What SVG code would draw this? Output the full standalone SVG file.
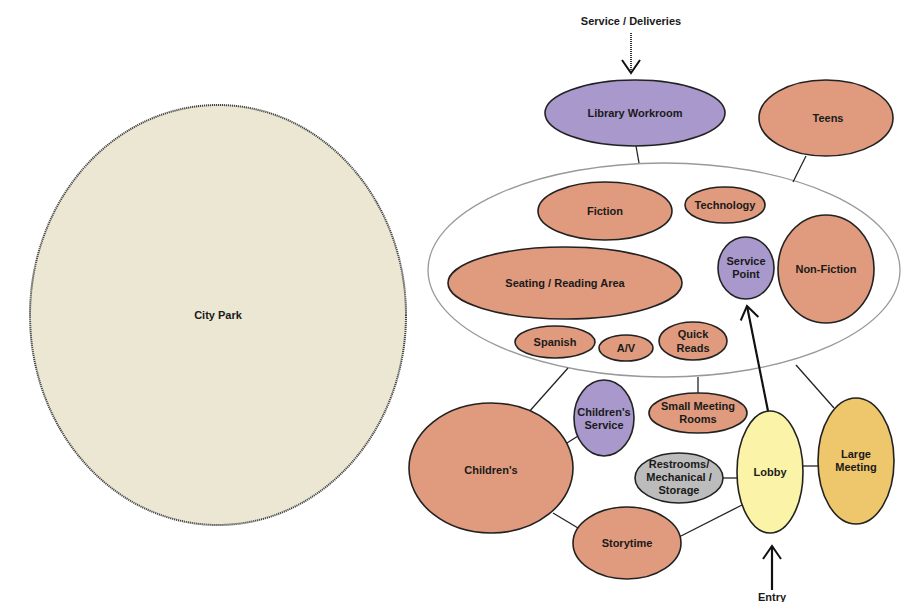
<svg xmlns="http://www.w3.org/2000/svg" width="905" height="602" viewBox="0 0 905 602">
<defs>
<style>
.n{stroke:#222;stroke-width:1.6}
.s{fill:#e09a7e}
.p{fill:#a898cc}
.t{font-family:"Liberation Sans",Arial,sans-serif;font-size:11px;font-weight:bold;fill:#1a1a1a;text-anchor:middle}
.c{stroke:#222;stroke-width:1.3;fill:none}
</style>
<marker id="vh" viewBox="0 0 20 20" refX="18" refY="10" markerWidth="20" markerHeight="20" markerUnits="userSpaceOnUse" orient="auto">
<path d="M5 1 L18 10 L5 19" fill="none" stroke="#111" stroke-width="2"/>
</marker>
</defs>
<rect width="905" height="602" fill="#fff"/>

<g id="city-park">
<ellipse cx="218" cy="315" rx="188" ry="210" fill="#ebe7d3" stroke="#444" stroke-width="2" stroke-dasharray="1.2 0.8"/>
<text class="t" x="218" y="319">City Park</text>
</g>

<g id="main-floor">
<ellipse cx="664" cy="270" rx="236" ry="107" fill="#fff" stroke="#999" stroke-width="1.3"/>
</g>

<g id="connectors">
<line class="c" x1="636" y1="146" x2="639" y2="163"/>
<line class="c" x1="806" y1="156" x2="793" y2="182"/>
<line class="c" x1="568" y1="368" x2="528" y2="413"/>
<line class="c" x1="567" y1="443" x2="578" y2="436"/>
<line class="c" x1="698" y1="377" x2="698" y2="393"/>
<line class="c" x1="796" y1="365" x2="834" y2="408"/>
<line class="c" x1="723" y1="478" x2="737" y2="478"/>
<line class="c" x1="803" y1="466" x2="818" y2="466"/>
<line class="c" x1="553" y1="513" x2="578" y2="528"/>
<line class="c" x1="679" y1="537" x2="742" y2="505"/>
<line x1="768" y1="411" x2="747" y2="306" stroke="#111" stroke-width="2.2" marker-end="url(#vh)"/>
<line x1="772" y1="590" x2="772" y2="546" stroke="#111" stroke-width="2.2" marker-end="url(#vh)"/>
<line x1="631" y1="33" x2="631" y2="73" stroke="#333" stroke-width="2" stroke-dasharray="1 1" marker-end="url(#vh)"/>
</g>

<g id="service-deliveries"><text class="t" x="631" y="25">Service / Deliveries</text></g>
<g id="entry"><text class="t" x="772" y="601">Entry</text></g>

<g id="library-workroom">
<ellipse class="n p" cx="635" cy="113" rx="90" ry="33"/>
<text class="t" x="635" y="117">Library Workroom</text>
</g>
<g id="teens">
<ellipse class="n s" cx="826" cy="118" rx="67" ry="38"/>
<text class="t" x="828" y="122">Teens</text>
</g>

<g id="fiction">
<ellipse class="n s" cx="605" cy="211" rx="67" ry="29"/>
<text class="t" x="605" y="215">Fiction</text>
</g>
<g id="technology">
<ellipse class="n s" cx="725" cy="205" rx="40" ry="18"/>
<text class="t" x="725" y="209">Technology</text>
</g>
<g id="seating">
<ellipse class="n s" cx="565" cy="283" rx="117" ry="36"/>
<text class="t" x="565" y="287">Seating / Reading Area</text>
</g>
<g id="service-point">
<ellipse class="n p" cx="746" cy="268" rx="28" ry="31"/>
<text class="t" x="746" y="265">Service</text>
<text class="t" x="746" y="278">Point</text>
</g>
<g id="non-fiction">
<ellipse class="n s" cx="826" cy="269" rx="48" ry="54"/>
<text class="t" x="826" y="273">Non-Fiction</text>
</g>
<g id="spanish">
<ellipse class="n s" cx="555" cy="342" rx="40" ry="16"/>
<text class="t" x="555" y="346">Spanish</text>
</g>
<g id="av">
<ellipse class="n s" cx="626" cy="348" rx="27" ry="13"/>
<text class="t" x="626" y="352">A/V</text>
</g>
<g id="quick-reads">
<ellipse class="n s" cx="693" cy="341" rx="34" ry="19"/>
<text class="t" x="693" y="338">Quick</text>
<text class="t" x="693" y="352">Reads</text>
</g>

<g id="childrens">
<ellipse class="n s" cx="491" cy="468" rx="82" ry="65"/>
<text class="t" x="491" y="474">Children's</text>
</g>
<g id="childrens-service">
<ellipse class="n p" cx="604" cy="418" rx="30" ry="38"/>
<text class="t" x="604" y="416">Children's</text>
<text class="t" x="604" y="429">Service</text>
</g>
<g id="small-meeting">
<ellipse class="n s" cx="698" cy="413" rx="49" ry="20"/>
<text class="t" x="698" y="410">Small Meeting</text>
<text class="t" x="698" y="423">Rooms</text>
</g>
<g id="restrooms">
<ellipse class="n" fill="#bcbcbc" cx="679" cy="478" rx="44" ry="25"/>
<text class="t" x="679" y="468">Restrooms/</text>
<text class="t" x="679" y="481">Mechanical /</text>
<text class="t" x="679" y="494">Storage</text>
</g>
<g id="lobby">
<ellipse class="n" fill="#fbf4a8" cx="770" cy="472" rx="33" ry="61"/>
<text class="t" x="770" y="476">Lobby</text>
</g>
<g id="large-meeting">
<ellipse class="n" fill="#eec66c" cx="856" cy="461" rx="38" ry="63"/>
<text class="t" x="856" y="458">Large</text>
<text class="t" x="856" y="471">Meeting</text>
</g>
<g id="storytime">
<ellipse class="n s" cx="627" cy="543" rx="54" ry="36"/>
<text class="t" x="627" y="547">Storytime</text>
</g>
</svg>
